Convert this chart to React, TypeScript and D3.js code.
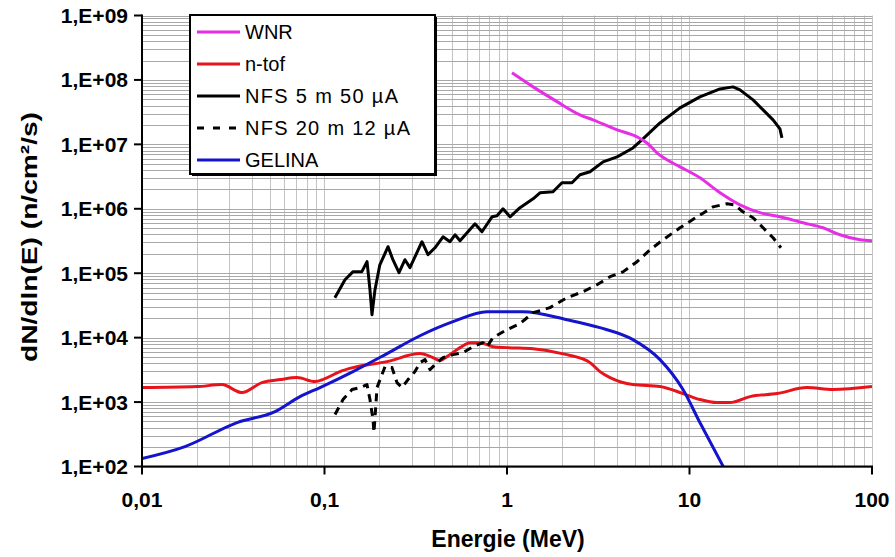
import React from 'react';
import * as d3 from 'd3';

type Pt = [number, number];

// Energy (MeV), flux dN/dln(E)
const wnr: Pt[] = [
  [1.065, 1.29e8], [1.39, 7.8e7], [1.88, 4.6e7], [2.51, 2.87e7], [2.96, 2.4e7], [4.01, 1.68e7],
  [5.15, 1.31e7], [5.85, 1.05e7], [6.63, 7.4e6], [7.53, 5.75e6], [8.87, 4.48e6], [11.4, 3.03e6],
  [14.7, 1.77e6], [18.9, 1.15e6], [24.3, 8.7e5], [31.3, 7.5e5], [41.9, 6.07e5], [53.9, 5.07e5],
  [66.8, 3.95e5], [85.9, 3.3e5], [100, 3.19e5],
];

const ntof: Pt[] = [
  [0.01, 1679], [0.02, 1738], [0.0274, 1867], [0.0353, 1403], [0.0454, 2005], [0.0571, 2233],
  [0.0707, 2399], [0.0887, 2080], [0.1006, 2312], [0.1216, 2972], [0.1433, 3428], [0.22, 4246],
  [0.334, 5649], [0.393, 4898], [0.43, 4397], [0.469, 5070], [0.553, 7000], [0.627, 8356],
  [0.711, 8356], [0.838, 7244], [1.0, 7000], [1.39, 6745], [2.13, 5445], [2.85, 4093],
  [3.23, 2972], [3.67, 2399], [4.9, 1867], [6.89, 1738], [9.21, 1355], [11.4, 1094],
  [14.15, 982], [16.67, 982], [21.45, 1216], [30.2, 1355], [44.0, 1679], [61.1, 1563], [100, 1738],
];

const nfs5: Pt[] = [
  [0.114, 4.17e4], [0.1295, 7.9e4], [0.143, 1.05e5], [0.16, 1.05e5], [0.171, 1.51e5], [0.1775, 5.5e4],
  [0.182, 2.27e4], [0.189, 5.5e4], [0.201, 1.35e5], [0.223, 2.58e5], [0.237, 1.62e5], [0.256, 1.02e5],
  [0.276, 1.62e5], [0.294, 1.22e5], [0.342, 3.08e5], [0.369, 1.94e5], [0.403, 2.48e5], [0.446, 3.68e5],
  [0.487, 3.08e5], [0.519, 3.95e5], [0.553, 3.19e5], [0.668, 5.85e5], [0.729, 4.4e5], [0.828, 7.5e5],
  [0.882, 7.8e5], [0.951, 1.0e6], [1.039, 7.5e5], [1.178, 1.04e6], [1.39, 1.43e6], [1.516, 1.77e6],
  [1.787, 1.84e6], [2.0, 2.53e6], [2.27, 2.53e6], [2.51, 3.37e6], [2.85, 3.75e6], [3.36, 5.35e6],
  [4.01, 6.4e6], [4.9, 8.8e6], [5.56, 1.22e7], [6.89, 2.15e7], [8.87, 3.68e7], [11.4, 5.45e7],
  [14.7, 7.25e7], [17.3, 7.8e7], [18.9, 7.0e7], [22.3, 4.9e7], [25.3, 3.43e7], [28.7, 2.4e7],
  [31.3, 1.74e7], [32.1, 1.26e7],
];

const nfs20: Pt[] = [
  [0.1142, 640], [0.1263, 1094], [0.1415, 1563], [0.1565, 1679], [0.1709, 1867], [0.1775, 1094],
  [0.1844, 536], [0.1867, 337], [0.194, 1679], [0.2146, 3548], [0.2344, 3428], [0.2496, 2005],
  [0.2659, 1679], [0.2868, 2233], [0.3131, 2972], [0.3337, 4093], [0.3554, 4560], [0.3785, 3190],
  [0.4135, 4093], [0.446, 4898], [0.506, 5445], [0.574, 5848], [0.651, 7244], [0.739, 8356],
  [0.777, 7244], [0.838, 1.0e4], [1.0, 1.33e4], [1.178, 1.65e4], [1.39, 2.44e4], [1.72, 2.92e4],
  [2.13, 4.17e4], [2.61, 5.17e4], [3.11, 6.63e4], [3.67, 8.83e4], [4.32, 1.05e5], [5.16, 1.51e5],
  [6.08, 2.31e5], [7.16, 3.3e5], [8.87, 5.07e5], [11.0, 7.5e5], [13.45, 1.07e6], [16.05, 1.2e6],
  [17.75, 1.15e6], [19.6, 8.98e5], [22.3, 7.25e5], [25.3, 5.07e5], [28.7, 3.55e5], [31.7, 2.48e5],
];

const gelina: Pt[] = [
  [0.01, 133], [0.0172, 204], [0.0332, 481], [0.0536, 713], [0.0734, 1216], [0.0945, 1679],
  [0.1433, 2972], [0.2201, 5649], [0.3337, 1.07e4], [0.506, 1.77e4], [0.777, 2.53e4], [1.224, 2.53e4],
  [2.13, 1.9e4], [3.23, 1.43e4], [4.9, 9310], [6.89, 4560], [9.21, 1563], [11.4, 481], [15.3, 100],
];

const xTicks = [0.01, 0.1, 1, 10, 100];
const xTickLabels = ['0,01', '0,1', '1', '10', '100'];
const yTicks = [1e2, 1e3, 1e4, 1e5, 1e6, 1e7, 1e8, 1e9];
const yTickLabels = ['1,E+02', '1,E+03', '1,E+04', '1,E+05', '1,E+06', '1,E+07', '1,E+08', '1,E+09'];

const seriesNames = ['WNR', 'n-tof', 'NFS 5 m 50 µA', 'NFS 20 m 12 µA', 'GELINA'];
const legendTextLengths = [0, 0, 153, 165, 0];

const FONT = '"Liberation Sans", Arial, sans-serif';

export default function App() {
  const W = 895, H = 557;
  const left = 142, right = 872, top = 15.5, bottom = 466.5;
  const x = d3.scaleLog().domain([0.01, 100]).range([left, right]);
  const y = d3.scaleLog().domain([1e2, 1e9]).range([bottom, top]);

  const minorX: number[] = [];
  for (let e = -2; e < 2; e++) for (let k = 1; k <= 9; k++) minorX.push(k * Math.pow(10, e));
  minorX.push(100);
  const minorY: number[] = [];
  for (let e = 2; e < 9; e++) for (let k = 1; k <= 9; k++) minorY.push(k * Math.pow(10, e));
  minorY.push(1e9);

  const smooth = d3.line<Pt>().x(d => x(d[0])).y(d => y(d[1])).curve(d3.curveMonotoneX);
  const straight = d3.line<Pt>().x(d => x(d[0])).y(d => y(d[1])).curve(d3.curveLinear);

  const series = [
    { name: seriesNames[0], data: wnr, color: '#e52ee5', dash: '', gen: smooth },
    { name: seriesNames[1], data: ntof, color: '#e8141c', dash: '', gen: smooth },
    { name: seriesNames[2], data: nfs5, color: '#000000', dash: '', gen: straight },
    { name: seriesNames[3], data: nfs20, color: '#000000', dash: '8,6', gen: straight },
    { name: seriesNames[4], data: gelina, color: '#1414cc', dash: '', gen: smooth },
  ];
  const drawOrder = [1, 4, 3, 2, 0];

  const legX = 190, legY = 15, legW = 245, legH = 159;

  return (
    <svg width={W} height={H} style={{ position: 'absolute', left: 0, top: 0, background: '#fff' }}
      fontFamily={FONT}>
      <defs>
        <clipPath id="plotclip">
          <rect x={left} y={top} width={right - left} height={bottom - top} />
        </clipPath>
      </defs>
      <rect x={0} y={0} width={W} height={H} fill="#fff" />
      {/* grid */}
      <g strokeWidth={1}>
        {minorX.map((v, i) => (
          <line key={'gx' + i} x1={Math.round(x(v)) + 0.5} x2={Math.round(x(v)) + 0.5} y1={top} y2={bottom}
            stroke="#c4c4c4" />
        ))}
        {minorY.map((v, i) => (
          <line key={'gy' + i} x1={left} x2={right} y1={Math.round(y(v)) + 0.5} y2={Math.round(y(v)) + 0.5}
            stroke="#a8a8a8" />
        ))}
      </g>
      {/* series */}
      <g clipPath="url(#plotclip)" fill="none" strokeLinejoin="round" strokeLinecap="butt">
        {drawOrder.map(i => {
          const s = series[i];
          return (
            <path key={s.name} d={s.gen(s.data) || ''} stroke={s.color} strokeWidth={3}
              strokeDasharray={s.dash || undefined} />
          );
        })}
      </g>
      {/* axes */}
      <line x1={left} x2={left} y1={top - 1} y2={bottom + 1} stroke="#000" strokeWidth={2} />
      <line x1={left - 1} x2={right + 1} y1={bottom} y2={bottom} stroke="#000" strokeWidth={2} />
      {yTicks.map((v, i) => (
        <g key={'yt' + i}>
          <line x1={left - 8} x2={left} y1={y(v)} y2={y(v)} stroke="#000" strokeWidth={2} />
          <text x={left - 14} y={y(v)} dy="0.36em" textAnchor="end" fontSize={21} fontWeight="bold">
            {yTickLabels[i]}
          </text>
        </g>
      ))}
      {xTicks.map((v, i) => (
        <g key={'xt' + i}>
          <line x1={x(v)} x2={x(v)} y1={bottom} y2={bottom + 8} stroke="#000" strokeWidth={2} />
          <text x={x(v)} y={bottom + 40} textAnchor="middle" fontSize={21} fontWeight="bold">
            {xTickLabels[i]}
          </text>
        </g>
      ))}
      <text x={508} y={547} textAnchor="middle" fontSize={23} fontWeight="bold">Energie (MeV)</text>
      <text transform="translate(37,237) rotate(-90)" textAnchor="middle"
        fontSize={22} fontWeight="bold" textLength={250} lengthAdjust="spacingAndGlyphs">
        dN/dln(E) (n/cm²/s)
      </text>
      {/* legend */}
      <rect x={legX + 2} y={legY + 2} width={legW} height={legH} fill="#000" />
      <rect x={legX} y={legY} width={legW} height={legH} fill="#fff" stroke="#000" strokeWidth={2} />
      {series.map((s, i) => {
        const ly = legY + 17 + i * 32;
        const tl = legendTextLengths[i];
        return (
          <g key={'lg' + i}>
            <line x1={legX + 7} x2={legX + 50} y1={ly} y2={ly} stroke={s.color} strokeWidth={3}
              strokeDasharray={s.dash ? '7,9' : undefined} />
            <text x={legX + 55} y={ly} dy="0.36em" fontSize={20}
              textLength={tl || undefined} lengthAdjust={tl ? 'spacing' : undefined}>{s.name}</text>
          </g>
        );
      })}
    </svg>
  );
}
